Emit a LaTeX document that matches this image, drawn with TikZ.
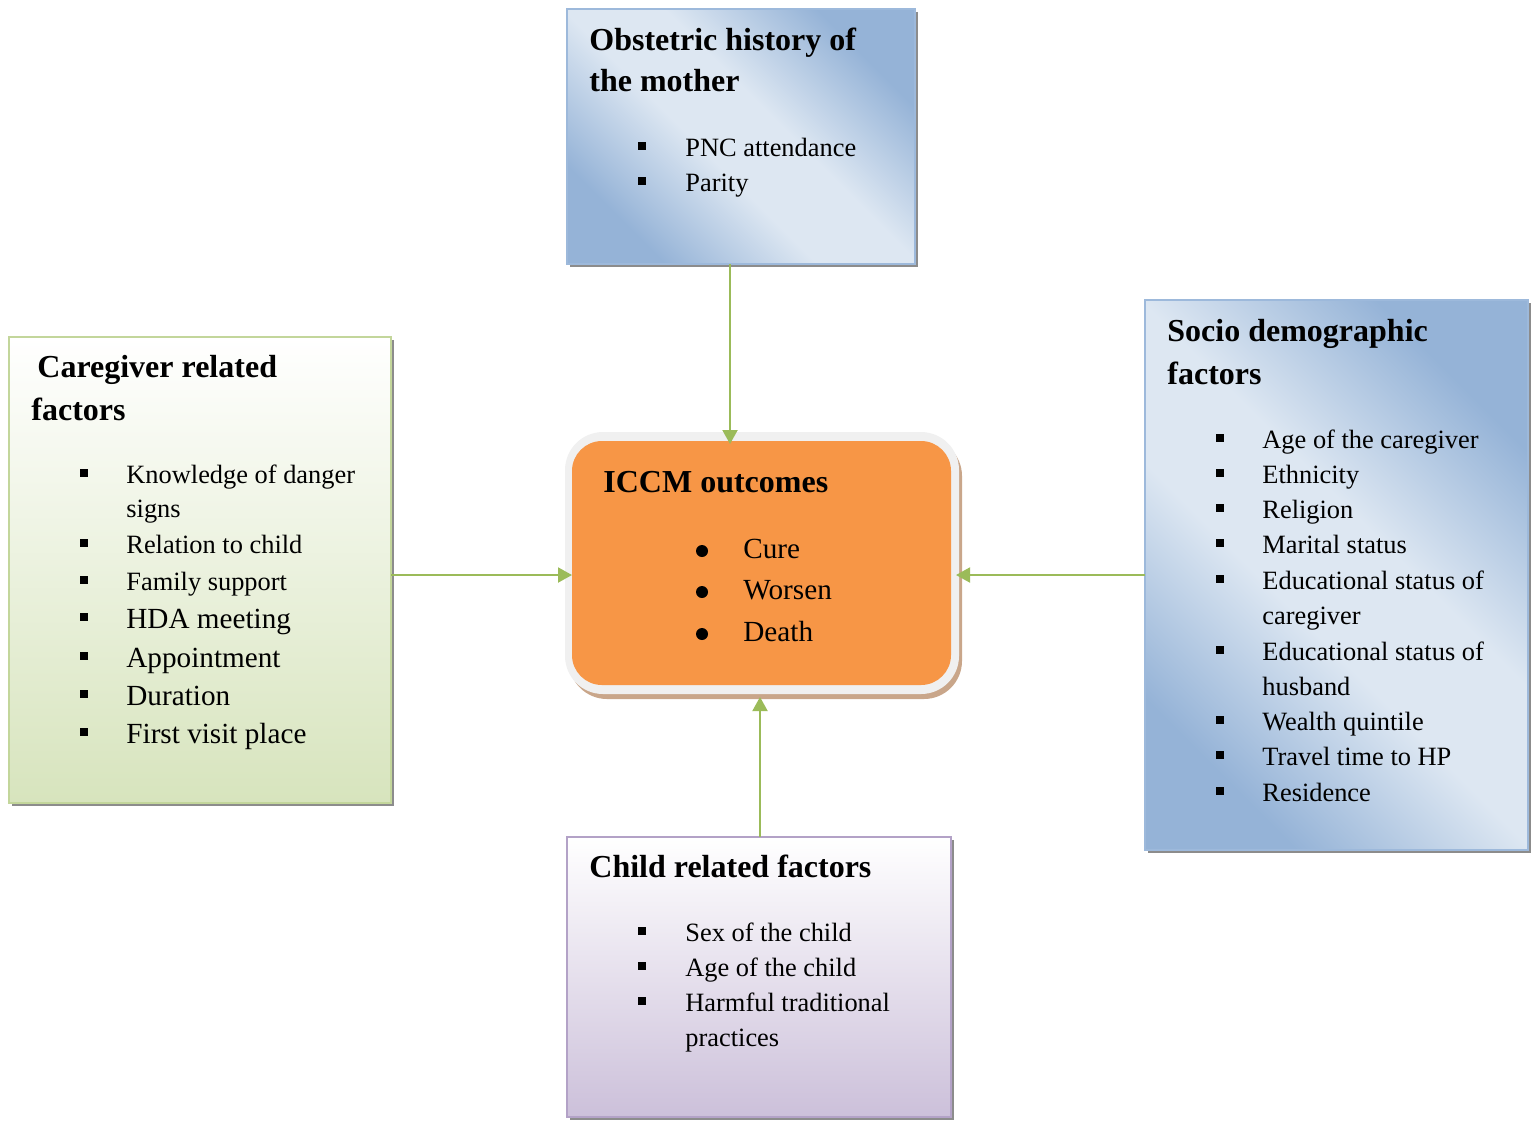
\documentclass[tikz,border=0pt]{standalone}
\usepackage{fontspec}
\setmainfont{Liberation Serif}
\usetikzlibrary{arrows.meta,shadows,calc}
\definecolor{bdark}{HTML}{95B3D7}
\definecolor{blight}{HTML}{DDE7F2}
\definecolor{bborder}{HTML}{9DB9DB}
\definecolor{gbot}{HTML}{D7E4BD}
\definecolor{gborder}{HTML}{C3D69B}
\definecolor{pbot}{HTML}{CCC0DA}
\definecolor{pborder}{HTML}{B3A2C7}
\definecolor{orng}{HTML}{F79646}
\definecolor{ringc}{HTML}{F0F0F0}
\definecolor{tanc}{HTML}{C9A68A}
\definecolor{arrg}{HTML}{9BBB59}
\pgfdeclareverticalshading{bluediag}{100bp}{color(0bp)=(bdark); color(26bp)=(bdark); color(44bp)=(blight); color(56bp)=(blight); color(74bp)=(bdark); color(100bp)=(bdark)}
\newcommand\bodyf{\fontsize{13.2}{15}\selectfont}
\newcommand\bigf{\fontsize{14.6}{17}\selectfont}
\newcommand\ttlf{\fontsize{16}{19}\selectfont\bfseries}
\begin{document}
\begin{tikzpicture}[x=0.5pt,y=-0.5pt,
  basebox/.style={draw, line width=1.2pt, inner sep=0pt, outer sep=0pt, anchor=north west,
    drop shadow={shadow xshift=1.6pt, shadow yshift=-1.6pt, fill=black!45, opacity=1}},
  bluebox/.style={basebox, draw=bborder, shading=bluediag, shading angle=-45},
  greenbox/.style={basebox, draw=gborder, top color=white, bottom color=gbot},
  purplebox/.style={basebox, draw=pborder, top color=white, bottom color=pbot},
  ttl/.style={anchor=base west, inner sep=0pt, font=\ttlf},
  itm/.style={anchor=base west, inner sep=0pt, font=\bodyf},
  itmb/.style={anchor=base west, inner sep=0pt, font=\bigf},
  sqb/.style={fill=black, inner sep=0pt, minimum size=4pt, rectangle},
  dotb/.style={fill=black, inner sep=0pt, minimum size=6pt, circle},
  arr/.style={draw=arrg, line width=1pt, -{Triangle[length=7pt,width=7.5pt]}}
]
\useasboundingbox (0,0) rectangle (1535,1120);

% boxes
\node[bluebox, minimum width=174pt, minimum height=127.5pt] (tb) at (567,9) {};
\node[greenbox, minimum width=191pt, minimum height=233pt] (lb) at (9,337) {};
\node[bluebox, minimum width=191.5pt, minimum height=275pt] (rb) at (1145,300) {};
\node[purplebox, minimum width=192pt, minimum height=140pt] (bb) at (567,837) {};

% centre box
\fill[tanc, rounded corners=19pt] (569,438) rectangle (962,699);
\fill[ringc, rounded corners=19pt] (565,432) rectangle (959,694);
\node[fill=orng, rounded corners=15pt, inner sep=0pt, outer sep=0pt, anchor=north west,
  minimum width=189.5pt, minimum height=122pt] (cc) at (572,441) {};

% top box text
\node[ttl] (tbt1) at (589,50) {Obstetric history of};
\node[ttl] (tbt2) at (589,91) {the mother};
\foreach \txt/\yb [count=\i] in {PNC attendance/156, Parity/191} {
  \node[itm] (tbi\i) at (685,\yb) {\txt};
  \node[sqb] (tbb\i) at (642,{\yb-10.5}) {};
}

% left box text
\node[ttl] (lbt1) at (37,377) {Caregiver related};
\node[ttl] (lbt2) at (31,420) {factors};
\foreach \txt/\yb [count=\i] in {Knowledge of danger/483, Relation to child/553, Family support/590} {
  \node[itm] (lbi\i) at (126,\yb) {\txt};
  \node[sqb] (lbb\i) at (84,{\yb-10.5}) {};
}
\node[itm] (lbc1) at (126,517) {signs};
\foreach \txt/\yb [count=\i] in {HDA meeting/628, Appointment/667, Duration/705, First visit place/743} {
  \node[itmb] (lbj\i) at (126,\yb) {\txt};
  \node[sqb] (lbk\i) at (84,{\yb-11}) {};
}

% centre text
\node[ttl] (cct) at (603,492) {ICCM outcomes};
\foreach \txt/\yb [count=\i] in {Cure/558, Worsen/599, Death/641} {
  \node[itmb] (cci\i) at (743,\yb) {\txt};
  \node[dotb] (ccb\i) at (702,{\yb-7}) {};
}

% right box text
\node[ttl] (rbt1) at (1167,341) {Socio demographic};
\node[ttl] (rbt2) at (1167,384) {factors};
\foreach \txt/\yb [count=\i] in {Age of the caregiver/448, Ethnicity/483, Religion/518, Marital status/553,
  Educational status of/589, Educational status of/660, Wealth quintile/730, Travel time to HP/765, Residence/801} {
  \node[itm] (rbi\i) at (1262,\yb) {\txt};
  \node[sqb] (rbb\i) at (1220,{\yb-10.5}) {};
}
\node[itm] (rbc1) at (1262,624) {caregiver};
\node[itm] (rbc2) at (1262,695) {husband};

% bottom box text
\node[ttl] (bbt) at (589,877) {Child related factors};
\foreach \txt/\yb [count=\i] in {Sex of the child/941, Age of the child/976, Harmful traditional/1011} {
  \node[itm] (bbi\i) at (685,\yb) {\txt};
  \node[sqb] (bbb\i) at (642,{\yb-10.5}) {};
}
\node[itm] (bbc1) at (685,1046) {practices};

% connectors
\coordinate (xa) at (730,0);
\coordinate (xb) at (760,0);
\coordinate (ya) at (0,575);
\draw[arr, shorten >=-1.5pt] (tb.south -| xa) -- (cc.north -| xa);
\draw[arr] (lb.east |- ya) -- (cc.west |- ya);
\draw[arr, shorten >=2.5pt] (rb.west |- ya) -- (cc.east |- ya);
\draw[arr, shorten >=6pt] (bb.north -| xb) -- (cc.south -| xb);
\end{tikzpicture}
\end{document}
